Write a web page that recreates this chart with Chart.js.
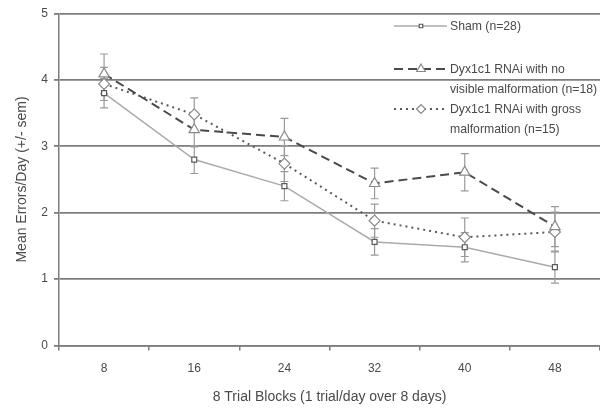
<!DOCTYPE html>
<html>
<head>
<meta charset="utf-8">
<script src="https://cdn.jsdelivr.net/npm/chart.js@4"></script>
<style>
  html, body { margin: 0; padding: 0; background: #fff; }
  #wrap { width: 600px; height: 408px; }
</style>
</head>
<body>
<div id="wrap"><canvas id="chart" width="600" height="408"></canvas></div>
<script>
// Datos
const blocks = ['8', '16', '24', '32', '40', '48'];
const yTicks = [0, 1, 2, 3, 4, 5];

const sham = [3.80, 2.80, 2.40, 1.56, 1.48, 1.18];
const shamSem = [0.22, 0.21, 0.22, 0.20, 0.22, 0.24];

const noMalf = [4.09, 3.25, 3.14, 2.44, 2.61, 1.79];
const noMalfSem = [0.30, 0.26, 0.28, 0.23, 0.28, 0.30];

const gross = [3.94, 3.48, 2.74, 1.88, 1.63, 1.71];
const grossSem = [0.25, 0.25, 0.27, 0.25, 0.29, 0.30];

const sems = [shamSem, noMalfSem, grossSem];

const FONT = 'Liberation Sans, Arial, sans-serif';
const TXT = '#4a4a4a';
const GRID = '#7d7d7d';

// Barras de error (+/- sem)
const errorBars = {
    id: 'errorBars',
    beforeDatasetsDraw(chart) {
        const ctx = chart.ctx;
        const yScale = chart.scales.y;
        ctx.save();
        ctx.strokeStyle = '#9a9a9a';
        ctx.lineWidth = 1.2;
        chart.data.datasets.forEach((ds, i) => {
            const meta = chart.getDatasetMeta(i);
            meta.data.forEach((pt, j) => {
                const v = ds.data[j];
                if (v == null) return;
                const top = yScale.getPixelForValue(v + sems[i][j]);
                const bot = yScale.getPixelForValue(v - sems[i][j]);
                ctx.beginPath();
                ctx.moveTo(pt.x, top); ctx.lineTo(pt.x, bot);
                ctx.moveTo(pt.x - 4, top); ctx.lineTo(pt.x + 4, top);
                ctx.moveTo(pt.x - 4, bot); ctx.lineTo(pt.x + 4, bot);
                ctx.stroke();
            });
        });
        ctx.restore();
    }
};

// Leyenda dibujada a mano encima del área del gráfico
const legendBox = {
    id: 'legendBox',
    afterDraw(chart) {
        const ctx = chart.ctx;
        const items = [
            { lines: ['Sham (n=28)'], y: 26 },
            { lines: ['Dyx1c1 RNAi with no', 'visible malformation (n=18)'], y: 69 },
            { lines: ['Dyx1c1 RNAi with gross', 'malformation (n=15)'], y: 109 }
        ];
        ctx.save();
        items.forEach((it, i) => {
            const ds = chart.data.datasets[i];
            ctx.strokeStyle = ds.borderColor;
            ctx.lineWidth = ds.borderWidth;
            ctx.setLineDash(ds.borderDash || []);
            ctx.beginPath();
            ctx.moveTo(394, it.y); ctx.lineTo(447, it.y);
            ctx.stroke();
            ctx.setLineDash([]);
            ctx.fillStyle = ds.pointBackgroundColor;
            ctx.strokeStyle = ds.pointBorderColor;
            ctx.lineWidth = 1.2;
            Chart.helpers.drawPoint(ctx, {
                pointStyle: ds.pointStyle,
                radius: ds.pointRadius - 1,
                borderWidth: 1.2
            }, 421, it.y);
            ctx.fillStyle = TXT;
            ctx.font = '13px ' + FONT;
            ctx.textBaseline = 'middle';
            ctx.textAlign = 'left';
            it.lines.forEach((t, k) => {
                // letra estrecha como en el original
                ctx.save();
                ctx.translate(450, it.y + k * 20);
                ctx.scale(0.94, 1);
                ctx.fillText(t, 0, 0);
                ctx.restore();
            });
        });
        ctx.restore();
    }
};

new Chart(document.getElementById('chart'), {
    type: 'line',
    data: {
        labels: blocks,
        datasets: [
            {
                label: 'Sham (n=28)',
                data: sham,
                borderColor: '#ababab',
                borderWidth: 1.5,
                pointStyle: 'rect',
                pointRadius: 3.5,
                pointBackgroundColor: '#ffffff',
                pointBorderColor: '#5a5a5a',
                pointBorderWidth: 1.2
            },
            {
                label: 'Dyx1c1 RNAi with no visible malformation (n=18)',
                data: noMalf,
                borderColor: '#4a4a4a',
                borderWidth: 2,
                borderDash: [9, 5],
                pointStyle: 'triangle',
                pointRadius: 6,
                pointBackgroundColor: '#ffffff',
                pointBorderColor: '#8a8a8a',
                pointBorderWidth: 1.2
            },
            {
                label: 'Dyx1c1 RNAi with gross malformation (n=15)',
                data: gross,
                borderColor: '#5a5a5a',
                borderWidth: 2,
                borderDash: [2, 4],
                pointStyle: 'rectRot',
                pointRadius: 5.5,
                pointBackgroundColor: '#ffffff',
                pointBorderColor: '#8a8a8a',
                pointBorderWidth: 1.2
            }
        ]
    },
    options: {
        responsive: false,
        animation: false,
        layout: { autoPadding: false, padding: { top: 13.5, right: 0, bottom: 0, left: 0 } },
        plugins: { legend: { display: false }, tooltip: { enabled: false } },
        scales: {
            x: {
                type: 'category',
                offset: true,
                grid: { offset: true, drawOnChartArea: false, drawTicks: true, tickLength: 5, color: GRID, lineWidth: 1.5 },
                border: { display: true, color: GRID, width: 1.5 },
                ticks: { color: TXT, font: { family: FONT, size: 12 }, padding: 11, maxRotation: 0 },
                title: { display: true, text: '8 Trial Blocks (1 trial/day over 8 days)', color: TXT, font: { family: FONT, size: 14 }, padding: { top: 4, bottom: 2 } },
                afterFit(scale) { scale.height = 62.5; }
            },
            y: {
                min: 0,
                max: 5,
                afterBuildTicks(scale) { scale.ticks = yTicks.map(v => ({ value: v })); },
                grid: { color: GRID, lineWidth: 1.8, tickLength: 5 },
                border: { display: true, color: GRID, width: 1.5 },
                ticks: { color: TXT, font: { family: FONT, size: 12 }, padding: 6 },
                title: { display: true, text: 'Mean Errors/Day (+/- sem)', color: TXT, font: { family: FONT, size: 14 }, padding: { top: 14, bottom: 0 } },
                afterFit(scale) { scale.width = 59; }
            }
        }
    },
    plugins: [errorBars, legendBox]
});
</script>
</body>
</html>
